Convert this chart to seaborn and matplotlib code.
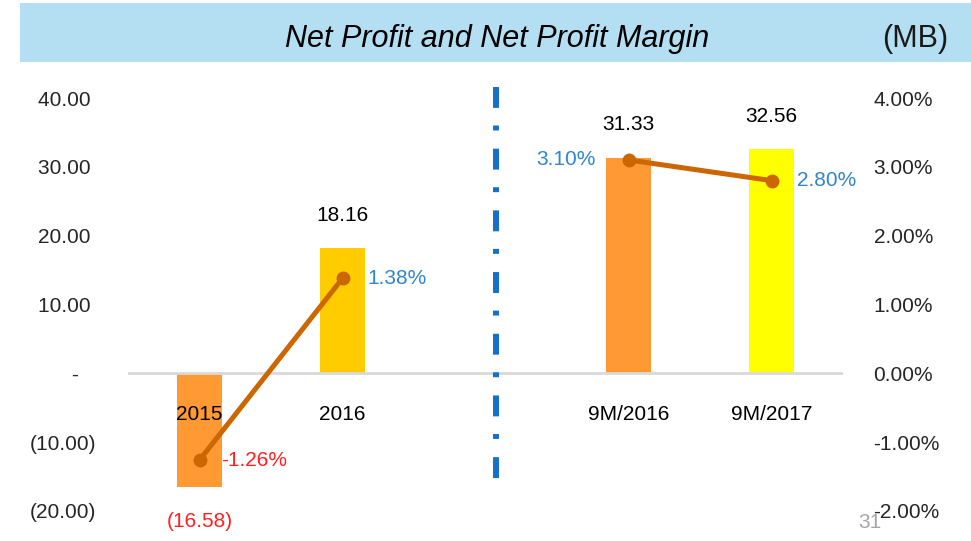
import matplotlib
matplotlib.use("Agg")
import matplotlib.pyplot as plt
from matplotlib.patches import Rectangle
import seaborn as sns
import pandas as pd
import numpy as np

# ---- data ----
categories = ["2015", "2016", "9M/2016", "9M/2017"]
positions = [0, 1, 3, 4]
net_profit = [-16.58, 18.16, 31.33, 32.56]
profit_labels = ["(16.58)", "18.16", "31.33", "32.56"]
margin_pct = [-1.26, 1.38, 3.10, 2.80]
margin_labels = ["-1.26%", "1.38%", "3.10%", "2.80%"]
period = ["FY", "FY", "9M", "9M"]
bar_colors = ["#FF9933", "#FFCC00", "#FF9933", "#FFFF00"]
left_ticks = [-20, -10, 0, 10, 20, 30, 40]
left_tick_labels = ["(20.00)", "(10.00)", "-   ", "10.00 ", "20.00 ", "30.00 ", "40.00 "]
right_ticks = [-2, -1, 0, 1, 2, 3, 4]
right_tick_labels = ["-2.00%", "-1.00%", "0.00%", "1.00%", "2.00%", "3.00%", "4.00%"]

df = pd.DataFrame({"pos": positions, "cat": categories, "profit": net_profit,
                   "margin": margin_pct, "period": period})

sns.set_style("white")
plt.rcParams["font.family"] = ["Liberation Sans", "DejaVu Sans"]

W, H = 971, 541
fig = plt.figure(figsize=(W / 100, H / 100), dpi=100)

# banner
fig.patches.append(Rectangle((20 / W, 1 - 62 / H), 951 / W, 59 / H, transform=fig.transFigure,
                             facecolor="#B4DEF2", edgecolor="none", zorder=0))
fig.text(497 / W, 1 - 39 / H, "Net Profit and Net Profit Margin", ha="center", va="center",
         fontsize=22, style="italic", color="#000000")
fig.text(915 / W, 1 - 39 / H, "(MB)", ha="center", va="center", fontsize=22, color="#1a1a1a")

ax = fig.add_axes([128 / W, 30 / H, 715 / W, 413 / H])
ax.patch.set_alpha(0)
sns.barplot(data=df, x="pos", y="profit", hue="cat", palette=bar_colors, native_scale=True,
            width=0.31, legend=False, ax=ax, saturation=1, linewidth=0)
ax.set_xlim(-0.5, 4.5)
ax.set_ylim(-20, 40)
ax.axhline(0, color="#D9D9D9", lw=2, zorder=1)
for s in ax.spines.values():
    s.set_visible(False)
ax.set_xticks([])
ax.set_xlabel("")
ax.set_ylabel("")
ax.set_yticks(left_ticks)
ax.set_yticklabels(left_tick_labels)
ax.tick_params(axis="y", length=0, pad=23, labelsize=15, labelcolor="#262626")

# category labels and bar values
for p, c, v, lab in zip(positions, categories, net_profit, profit_labels):
    ax.annotate(c, (p, 0), xytext=(0, -41), textcoords="offset pixels", ha="center",
                va="center", fontsize=15, color="#000000", zorder=5)
    if v >= 0:
        ax.annotate(lab, (p, v), xytext=(0, 33), textcoords="offset pixels", ha="center",
                    va="center", fontsize=15, color="#000000")
    else:
        ax.annotate(lab, (p, v), xytext=(0, -34), textcoords="offset pixels", ha="center",
                    va="center", fontsize=15, color="#FF2020", annotation_clip=False)

# dash-dot separator
ax.plot([2.073, 2.073], [41.6, -16.3], color="#1570CC", lw=4.3, clip_on=False,
        dashes=[3.5, 2.95, 0.83, 3.05], solid_capstyle="butt", dash_capstyle="butt", zorder=2)

ax2 = ax.twinx()
ax2.patch.set_alpha(0)
sns.lineplot(data=df, x="pos", y="margin", hue="period", palette=["#CC6600", "#CC6600"],
             marker="o", markersize=10, markeredgewidth=0, lw=3.6, legend=False, ax=ax2, zorder=6)
ax2.set_xlim(-0.5, 4.5)
ax2.set_ylim(-2, 4)
for s in ax2.spines.values():
    s.set_visible(False)
ax2.set_xlabel("")
ax2.set_ylabel("")
ax2.set_yticks(right_ticks)
ax2.set_yticklabels(right_tick_labels)
ax2.tick_params(axis="y", length=0, pad=22, labelsize=15, labelcolor="#262626")
for lab in ax2.get_yticklabels():
    lab.set_horizontalalignment("left")

label_offsets = [(22, "left", "#FF2020"), (25, "left", "#2E86D0"),
                 (-33, "right", "#2E86D0"), (25, "left", "#2E86D0")]
for p, m, lab, (dx, ha, col) in zip(positions, margin_pct, margin_labels, label_offsets):
    ax2.annotate(lab, (p, m), xytext=(dx, 0), textcoords="offset pixels", ha=ha, va="center",
                 fontsize=15, color=col, zorder=7)

fig.text(870 / W, 1 - 523 / H, "31", ha="center", va="center", fontsize=15, color="#A6A6A6")

fig.savefig("out.png", dpi=100)
